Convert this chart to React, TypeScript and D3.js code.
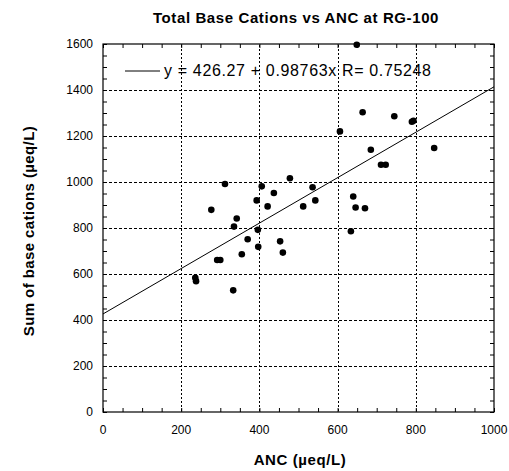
import React, { useEffect, useRef } from 'react';
import * as d3 from 'd3';

// ANC (x) and sum of base cations (y), ueq/L
const ancValues = [649, 664, 745, 790, 794, 606, 685, 847, 711, 723, 312, 478, 406, 536, 437, 640, 543, 393, 512, 421, 646, 670, 277, 342, 335, 396, 634, 370, 453, 397, 460, 355, 292, 300, 236, 238, 333];
const baseCationValues = [1597, 1303, 1286, 1262, 1266, 1220, 1140, 1148, 1075, 1075, 991, 1016, 981, 977, 952, 937, 920, 920, 894, 894, 889, 886, 879, 841, 806, 792, 786, 751, 742, 718, 693, 686, 661, 661, 584, 569, 529];

const xTicks = [0, 200, 400, 600, 800, 1000];
const yTicks = [0, 200, 400, 600, 800, 1000, 1200, 1400, 1600];

const fitIntercept = 426.27;
const fitSlope = 0.98763;
const legendText = 'y = 426.27 + 0.98763x R= 0.75248';

const title = 'Total Base Cations vs ANC at RG-100';
const xTitle = 'ANC  (\u00b5eq/L)';
const yTitle = 'Sum of base cations (\u00b5eq/L)';

export default function App() {
  const ref = useRef<SVGSVGElement>(null);

  useEffect(() => {
    const svg = d3.select(ref.current);
    svg.selectAll('*').remove();

    const margin = { top: 44, right: 15, bottom: 59, left: 103 };
    const width = 509 - margin.left - margin.right,
      height = 471 - margin.top - margin.bottom;

    const g = svg.append('g').attr('transform', 'translate(' + margin.left + ',' + margin.top + ')');

    const x = d3.scaleLinear().domain([0, 1000]).range([0, width]);
    const y = d3.scaleLinear().domain([0, 1600]).range([height, 0]);

    const font = '"Liberation Sans", Arial, Helvetica, sans-serif';

    // dotted grid: short segments built along each grid line
    const vDots = xTicks.slice(1, -1).map(d => {
      const px = Math.round(x(d)) + 0.5;
      return d3.range(1, height, 4).map(p => 'M' + px + ',' + p + 'v2').join('');
    }).join('');
    const hDots = yTicks.slice(1, -1).map(d => {
      const py = Math.round(y(d)) + 0.5;
      return d3.range(1, width, 5).map(p => 'M' + p + ',' + py + 'h3').join('');
    }).join('');
    g.append('path')
      .attr('d', vDots + hDots)
      .attr('fill', 'none')
      .attr('stroke', '#000')
      .attr('stroke-width', 1);

    // inward ticks on all four sides
    const tk = 4;
    g.append('g').call(d3.axisBottom(x).ticks(20).tickSize(tk).tickFormat(() => ''))
      .attr('transform', 'translate(0,' + (height - tk) + ')');
    g.append('g').call(d3.axisTop(x).ticks(20).tickSize(tk).tickFormat(() => ''))
      .attr('transform', 'translate(0,' + tk + ')');
    g.append('g').call(d3.axisLeft(y).ticks(32).tickSize(tk).tickFormat(() => ''))
      .attr('transform', 'translate(' + tk + ',0)');
    g.append('g').call(d3.axisRight(y).ticks(32).tickSize(tk).tickFormat(() => ''))
      .attr('transform', 'translate(' + (width - tk) + ',0)');
    g.selectAll('.domain').remove();

    // frame
    g.append('rect')
      .attr('width', width).attr('height', height)
      .attr('fill', 'none').attr('stroke', '#000').attr('stroke-width', 1.2);

    // tick labels
    g.append('g')
      .attr('font-family', font).attr('font-size', 12).attr('text-anchor', 'middle')
      .selectAll('text')
      .data(xTicks)
      .enter().append('text')
      .attr('x', d => x(d)).attr('y', height + 22)
      .text(d => d);

    g.append('g')
      .attr('font-family', font).attr('font-size', 12).attr('text-anchor', 'end')
      .selectAll('text')
      .data(yTicks)
      .enter().append('text')
      .attr('x', -10).attr('y', d => y(d)).attr('dy', '0.35em')
      .text(d => d);

    // regression line
    g.append('line')
      .attr('x1', x(0)).attr('y1', y(fitIntercept))
      .attr('x2', x(1000)).attr('y2', y(fitIntercept + fitSlope * 1000))
      .attr('stroke', '#000').attr('stroke-width', 1);

    // points
    g.append('g')
      .selectAll('circle')
      .data(ancValues.map((a, i) => [a, baseCationValues[i]]))
      .enter().append('circle')
      .attr('cx', d => x(d[0])).attr('cy', d => y(d[1]))
      .attr('r', 3.3)
      .attr('fill', '#000');

    // legend
    g.append('line')
      .attr('x1', 22).attr('x2', 57).attr('y1', 27).attr('y2', 27)
      .attr('stroke', '#000').attr('stroke-width', 1);
    g.append('text')
      .attr('x', 61).attr('y', 32)
      .attr('font-family', font).attr('font-size', 16)
      .attr('letter-spacing', 0.65)
      .text(legendText);

    // titles
    svg.append('text')
      .attr('x', 296).attr('y', 23)
      .attr('text-anchor', 'middle')
      .attr('font-family', font).attr('font-size', 15).attr('font-weight', 'bold')
      .attr('letter-spacing', 0.6)
      .text(title);

    svg.append('text')
      .attr('x', 300).attr('y', 465)
      .attr('text-anchor', 'middle')
      .attr('font-family', font).attr('font-size', 15).attr('font-weight', 'bold')
      .attr('letter-spacing', 0.6)
      .text(xTitle);

    svg.append('text')
      .attr('transform', 'translate(34,' + 231 + ') rotate(-90)')
      .attr('text-anchor', 'middle')
      .attr('font-family', font).attr('font-size', 15).attr('font-weight', 'bold')
      .attr('letter-spacing', 0.4)
      .text(yTitle);
  }, []);

  return (
    <svg ref={ref} width={509} height={471} style={{ position: 'absolute', left: 0, top: 0, background: '#fff' }} />
  );
}
